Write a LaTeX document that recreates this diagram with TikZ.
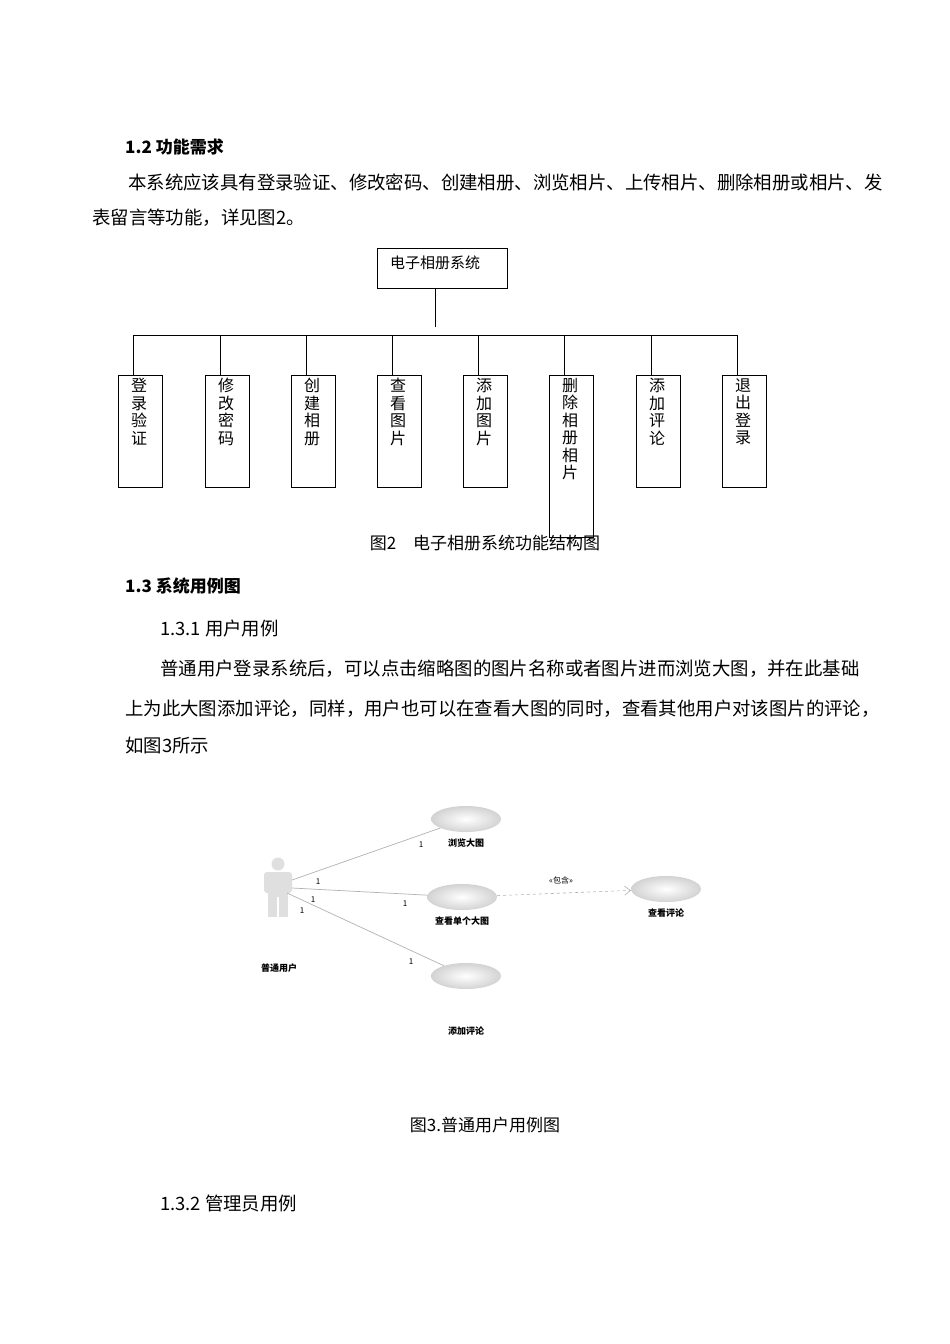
\documentclass[tikz,border=0pt]{standalone}
\usepackage{fontspec}
\setmainfont{Noto Sans CJK SC}
\usetikzlibrary{arrows.meta,shapes.geometric}
\begin{document}
\begin{tikzpicture}[x=1pt,y=-1pt,
  body/.style={anchor=west,inner sep=0pt,font=\fontsize{18.4}{20}\selectfont},
  head/.style={anchor=west,inner sep=0pt,font=\fontsize{17}{20}\selectfont\bfseries},
  fbox/.style={draw,line width=0.9pt,minimum width=44pt,inner sep=0pt},
  vtxt/.style={inner sep=0pt,anchor=north,align=center,font=\fontsize{16}{17.5}\selectfont},
  uc/.style={ellipse,inner color=white,outer color=gray!35,minimum width=70pt,minimum height=26pt,inner sep=0pt},
  uclab/.style={inner sep=0pt,font=\fontsize{9}{10}\selectfont\bfseries},
  mult/.style={inner sep=0pt,font=\fontsize{8}{9}\selectfont},
  assoc/.style={draw=gray!60,line width=0.7pt}]
\useasboundingbox[fill=white] (0,0) rectangle (950,1344);
\node[head] (h12) at (125,147) {1.2 功能需求};
\node[body] (p1) at (128,182) {本系统应该具有登录验证、修改密码、创建相册、浏览相片、上传相片、删除相册或相片、发};
\node[body] (p2) at (92,218) {表留言等功能，详见图2。};
% structure chart
\node[fbox,minimum width=130pt,minimum height=40pt,anchor=north west] (root) at (377,248) {};
\node[anchor=north west,inner sep=0pt,font=\fontsize{15}{16}\selectfont] (roott) at (390,256) {电子相册系统};
\coordinate (j) at (435,327);
\draw[line width=0.9pt] (435,288) -- (j);
\coordinate (hl) at (133,335);
\coordinate (hr) at (737,335);
\draw[line width=0.9pt] (hl) -- (hr);
\foreach \x/\t/\n/\h in {118/登\\录\\验\\证/a/112,205/修\\改\\密\\码/b/112,291/创\\建\\相\\册/c/112,377/查\\看\\图\\片/d/112,463/添\\加\\图\\片/e/112,549/删\\除\\相\\册\\相\\片/f/162,636/添\\加\\评\\论/g/112,722/退\\出\\登\\录/h/112}{
  \node[fbox,minimum height=\h pt,anchor=north west] (b\n) at (\x,375) {};
  \node[vtxt] (t\n) at (\x+21,378) {\t};
  \draw[line width=0.9pt] (\x+15,335) -- (\x+15,375);
}
\node[inner sep=0pt,font=\fontsize{17}{18}\selectfont] (cap2) at (485,543) {图2\quad 电子相册系统功能结构图};
\node[head] (h13) at (125,586) {1.3 系统用例图};
\node[body] (h131) at (160,629) {1.3.1 用户用例};
\node[body] (p3) at (160,669) {普通用户登录系统后，可以点击缩略图的图片名称或者图片进而浏览大图，并在此基础};
\node[body] (p4) at (125,709) {上为此大图添加评论，同样，用户也可以在查看大图的同时，查看其他用户对该图片的评论，};
\node[body] (p5) at (125,746) {如图3所示};
% use case actor
\fill[gray!25] (278,864) circle (6.5);
\fill[gray!25,rounded corners=3pt] (264,872) rectangle (292,893);
\fill[gray!25] (268,888) rectangle (288,897);
\fill[gray!25] (268,895) rectangle (277,917);
\fill[gray!25] (279,895) rectangle (288,917);
\coordinate (act1) at (292,880);
\coordinate (act2) at (292,888);
\coordinate (act3) at (287,893);
\node[uc] (u1) at (466,819) {};
\node[uc] (u2) at (462,897) {};
\node[uc] (u3) at (666,889) {};
\node[uc] (u4) at (466,976) {};
\node[uclab] at (466,843) {浏览大图};
\node[uclab] at (462,921) {查看单个大图};
\node[uclab] at (666,913) {查看评论};
\node[uclab] at (466,1031) {添加评论};
\node[uclab] at (279,968) {普通用户};
\draw[assoc] (act1) -- (u1);
\draw[assoc] (act2) -- (u2);
\draw[assoc] (act3) -- (u4);
\draw[gray!60,dashed,line width=0.6pt,-{Straight Barb[length=6pt,width=9pt]}] (u2) -- (u3);
\node[mult] at (421,845) {1};
\node[mult] at (318,882) {1};
\node[mult] at (313,900) {1};
\node[mult] at (302,911) {1};
\node[mult] at (405,904) {1};
\node[mult] at (411,962) {1};
\node[mult] at (561,880) {«包含»};
\node[inner sep=0pt,font=\fontsize{17}{18}\selectfont] (cap3) at (485,1125) {图3.普通用户用例图};
\node[body] (h132) at (160,1204) {1.3.2 管理员用例};
\end{tikzpicture}
\end{document}
